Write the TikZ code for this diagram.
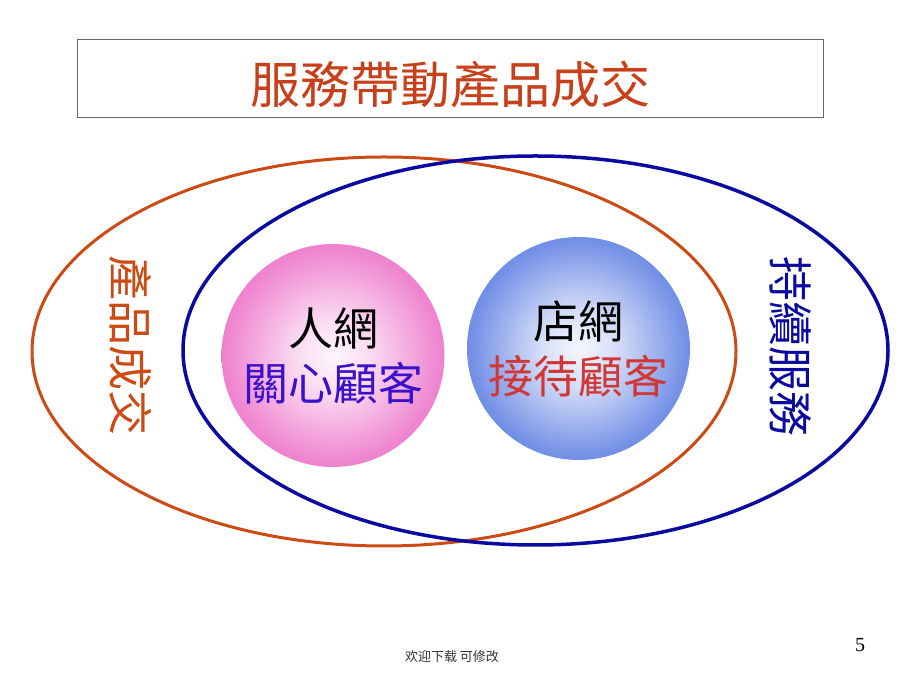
\documentclass[tikz,border=0pt]{standalone}
\usepackage{fontspec}
\setmainfont{Liberation Serif}
\newfontfamily\tcfont{Noto Sans CJK TC}
\newfontfamily\scfont{Noto Sans CJK SC}
\usetikzlibrary{shapes.geometric}

\definecolor{salered}{HTML}{CC4A14}
\definecolor{servblue}{HTML}{0A0AA0}
\definecolor{titlered}{HTML}{C8401A}
\definecolor{careblue}{HTML}{3A10C8}
\definecolor{greetred}{HTML}{D03838}
\definecolor{pinkc}{HTML}{E850BC}
\definecolor{bluec}{HTML}{3A62DC}

\pgfdeclareradialshading{pinkball}{\pgfpoint{0bp}{0bp}}{color(0bp)=(white!95!pinkc); color(8bp)=(white!80!pinkc); color(24bp)=(white!30!pinkc); color(40bp)=(pinkc); color(50bp)=(pinkc)}
\pgfdeclareradialshading{blueball}{\pgfpoint{0bp}{0bp}}{color(0bp)=(white!95!bluec); color(8bp)=(white!80!bluec); color(24bp)=(white!30!bluec); color(40bp)=(bluec); color(50bp)=(bluec)}

\tikzset{
  big/.style={font=\tcfont\fontsize{45}{55}\selectfont},
  ring/.style={draw, ellipse, line width=3pt, minimum width=704, minimum height=389, inner sep=0},
  ball/.style={circle, minimum size=223, inner sep=0, align=center, big}
}

\begin{document}
\begin{tikzpicture}[x=1pt,y=1pt]
        \useasboundingbox (0,0) rectangle (920,690);
        \fill[white] (0,0) rectangle (920,690);

        \node[draw=gray!80!black, line width=1pt, minimum width=746, minimum height=78] (titlebox) at (450,611) {};
        \node[text=titlered, font=\tcfont\fontsize{50}{60}\selectfont] (title) at (450,605) {服務帶動產品成交};

        \node[ball, shading=pinkball] (people) at (333,334.5) {人網\\\textcolor{careblue}{關心顧客}};
        \node[ball, shading=blueball] (shop) at (578.5,341.5) {店網\\\textcolor{greetred}{接待顧客}};

        \node[ring, draw=salered] (sale) at (384,338.5) {};
        \node[ring, draw=servblue, line width=3.5pt, minimum width=705] (serve) at (535.5,339.5) {};

        \node[big, text=salered, rotate=-90] (saletext) at (131,344) {產品成交};
        \node[big, text=servblue, rotate=-90] (servetext) at (791,343) {持續服務};

        \node[font=\scfont\fontsize{13}{15}\selectfont, text=black!80] (foot) at (452,33) {欢迎下载 可修改};
        \node[font=\fontsize{20}{24}\selectfont] (page) at (860,45) {5};
      \end{tikzpicture}
\end{document}
